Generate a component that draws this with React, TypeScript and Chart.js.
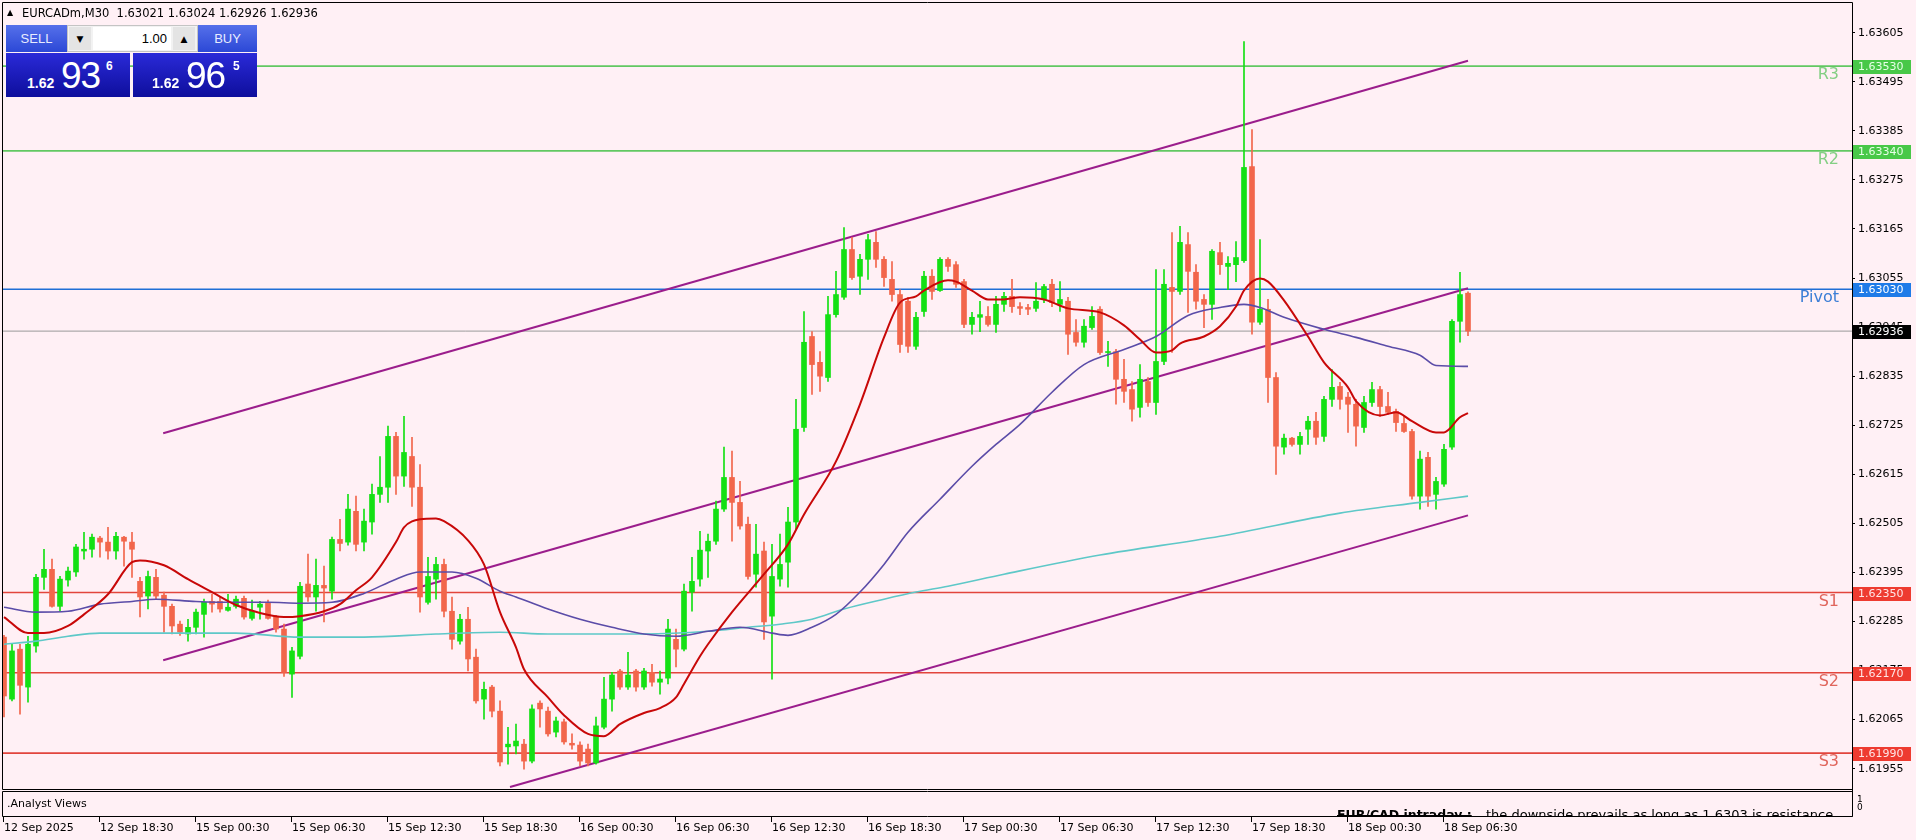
import React, { useEffect, useRef } from "react";
import { Chart, registerables } from "chart.js";

Chart.register(...registerables);

// ---------- data ----------
const timeLabels = ["12 Sep 2025", "12 Sep 18:30", "15 Sep 00:30", "15 Sep 06:30", "15 Sep 12:30", "15 Sep 18:30", "16 Sep 00:30", "16 Sep 06:30", "16 Sep 12:30", "16 Sep 18:30", "17 Sep 00:30", "17 Sep 06:30", "17 Sep 12:30", "17 Sep 18:30", "18 Sep 00:30", "18 Sep 06:30"];
const timeLabelBars = [0, 12, 24, 36, 48, 60, 72, 84, 96, 108, 120, 132, 144, 156, 168, 180];
const yTickValues = [1.61955, 1.62065, 1.62175, 1.62285, 1.62395, 1.62505, 1.62615, 1.62725, 1.62835, 1.62945, 1.63055, 1.63165, 1.63275, 1.63385, 1.63495, 1.63605];

const opens = [
  1.62250, 1.62111, 1.62223, 1.62138, 1.62230, 1.62384, 1.62402, 1.62319, 1.62378, 1.62396,
  1.62443, 1.62447, 1.62472, 1.62463, 1.62443, 1.62474, 1.62463, 1.62375, 1.62342, 1.62384,
  1.62344, 1.62319, 1.62279, 1.62257, 1.62272, 1.62301, 1.62330, 1.62330, 1.62310, 1.62319,
  1.62337, 1.62292, 1.62317, 1.62326, 1.62295, 1.62268, 1.62167, 1.62207, 1.62369, 1.62340,
  1.62366, 1.62353, 1.62469, 1.62463, 1.62532, 1.62463, 1.62508, 1.62570, 1.62586, 1.62700,
  1.62611, 1.62655, 1.62586, 1.62328, 1.62380, 1.62413, 1.62308, 1.62241, 1.62290, 1.62205,
  1.62111, 1.62138, 1.62084, 1.62004, 1.62006, 1.62010, 1.61972, 1.62102, 1.62084, 1.62037,
  1.62060, 1.62012, 1.62008, 1.61999, 1.61968, 1.62048, 1.62111, 1.62174, 1.62138, 1.62174,
  1.62138, 1.62171, 1.62149, 1.62158, 1.62245, 1.62223, 1.62351, 1.62380, 1.62443, 1.62465,
  1.62537, 1.62608, 1.62552, 1.62503, 1.62391, 1.62443, 1.62297, 1.62380, 1.62418, 1.62508,
  1.62720, 1.62924, 1.62866, 1.62832, 1.62973, 1.63012, 1.63119, 1.63059, 1.63097, 1.63135,
  1.63097, 1.63052, 1.63018, 1.63003, 1.62902, 1.62980, 1.63059, 1.63027, 1.63097, 1.63085,
  1.63047, 1.62951, 1.62967, 1.62969, 1.62951, 1.62996, 1.63014, 1.62991, 1.62989, 1.62987,
  1.63007, 1.63041, 1.62996, 1.63003, 1.62933, 1.62911, 1.62944, 1.62985, 1.62888, 1.62890,
  1.62828, 1.62805, 1.62765, 1.62823, 1.62776, 1.62868, 1.63034, 1.63025, 1.63130, 1.63068,
  1.63007, 1.62996, 1.63112, 1.63081, 1.63085, 1.63094, 1.63305, 1.62956, 1.62985, 1.62832,
  1.62676, 1.62696, 1.62682, 1.62716, 1.62734, 1.62700, 1.62783, 1.62812, 1.62788, 1.62772,
  1.62720, 1.62776, 1.62805, 1.62767, 1.62756, 1.62729, 1.62711, 1.62566, 1.62653, 1.62570,
  1.62593, 1.62676, 1.62958, 1.63021
];
const highs = [
  1.62254, 1.62234, 1.62234, 1.62252, 1.62391, 1.62447, 1.62425, 1.62386, 1.62407, 1.62458,
  1.62485, 1.62481, 1.62476, 1.62496, 1.62485, 1.62476, 1.62485, 1.62384, 1.62398, 1.62402,
  1.62351, 1.62324, 1.62286, 1.62290, 1.62313, 1.62335, 1.62346, 1.62340, 1.62346, 1.62342,
  1.62342, 1.62333, 1.62330, 1.62333, 1.62299, 1.62279, 1.62227, 1.62373, 1.62436, 1.62425,
  1.62409, 1.62474, 1.62514, 1.62570, 1.62566, 1.62537, 1.62593, 1.62655, 1.62723, 1.62709,
  1.62745, 1.62698, 1.62637, 1.62429, 1.62429, 1.62425, 1.62340, 1.62301, 1.62317, 1.62223,
  1.62149, 1.62142, 1.62107, 1.62048, 1.62055, 1.62021, 1.62098, 1.62107, 1.62093, 1.62071,
  1.62066, 1.62033, 1.62015, 1.62010, 1.62071, 1.62160, 1.62171, 1.62178, 1.62216, 1.62178,
  1.62180, 1.62189, 1.62174, 1.62290, 1.62268, 1.62369, 1.62429, 1.62487, 1.62481, 1.62555,
  1.62676, 1.62667, 1.62599, 1.62519, 1.62503, 1.62463, 1.62458, 1.62481, 1.62541, 1.62783,
  1.62980, 1.62935, 1.62890, 1.63014, 1.63070, 1.63168, 1.63146, 1.63108, 1.63153, 1.63159,
  1.63103, 1.63092, 1.63029, 1.63012, 1.62978, 1.63070, 1.63074, 1.63101, 1.63101, 1.63092,
  1.63052, 1.62978, 1.63003, 1.62991, 1.63014, 1.63023, 1.63052, 1.63000, 1.62996, 1.63045,
  1.63041, 1.63052, 1.63047, 1.63012, 1.62962, 1.62962, 1.62991, 1.62991, 1.62913, 1.62895,
  1.62873, 1.62823, 1.62861, 1.62832, 1.63074, 1.63074, 1.63157, 1.63171, 1.63157, 1.63085,
  1.63018, 1.63119, 1.63135, 1.63103, 1.63137, 1.63585, 1.63388, 1.63141, 1.63007, 1.62843,
  1.62705, 1.62698, 1.62709, 1.62745, 1.62754, 1.62790, 1.62850, 1.62821, 1.62799, 1.62783,
  1.62790, 1.62821, 1.62812, 1.62799, 1.62761, 1.62745, 1.62716, 1.62667, 1.62664, 1.62608,
  1.62682, 1.62962, 1.63068, 1.63024
];
const lows = [
  1.62071, 1.62107, 1.62077, 1.62104, 1.62216, 1.62357, 1.62317, 1.62308, 1.62364, 1.62386,
  1.62425, 1.62429, 1.62429, 1.62425, 1.62425, 1.62409, 1.62384, 1.62295, 1.62313, 1.62335,
  1.62261, 1.62257, 1.62254, 1.62241, 1.62257, 1.62250, 1.62306, 1.62306, 1.62308, 1.62315,
  1.62290, 1.62288, 1.62290, 1.62290, 1.62261, 1.62162, 1.62115, 1.62201, 1.62330, 1.62308,
  1.62284, 1.62335, 1.62443, 1.62456, 1.62443, 1.62443, 1.62481, 1.62552, 1.62552, 1.62570,
  1.62588, 1.62543, 1.62306, 1.62324, 1.62335, 1.62295, 1.62223, 1.62234, 1.62174, 1.62102,
  1.62066, 1.62071, 1.61961, 1.61965, 1.61988, 1.61954, 1.61968, 1.62048, 1.62028, 1.62026,
  1.62010, 1.61999, 1.61961, 1.61961, 1.61965, 1.62044, 1.62084, 1.62133, 1.62133, 1.62129,
  1.62133, 1.62140, 1.62122, 1.62145, 1.62183, 1.62219, 1.62308, 1.62364, 1.62384, 1.62458,
  1.62532, 1.62465, 1.62492, 1.62380, 1.62362, 1.62245, 1.62156, 1.62364, 1.62362, 1.62492,
  1.62711, 1.62794, 1.62801, 1.62823, 1.62967, 1.63007, 1.63052, 1.63018, 1.63052, 1.63079,
  1.63036, 1.63003, 1.62888, 1.62888, 1.62895, 1.62969, 1.63007, 1.63025, 1.63070, 1.63034,
  1.62944, 1.62929, 1.62935, 1.62947, 1.62933, 1.62980, 1.62978, 1.62973, 1.62973, 1.62980,
  1.63000, 1.62991, 1.62980, 1.62884, 1.62902, 1.62900, 1.62940, 1.62884, 1.62857, 1.62772,
  1.62776, 1.62734, 1.62743, 1.62767, 1.62749, 1.62861, 1.62888, 1.63018, 1.62978, 1.62985,
  1.62944, 1.62962, 1.63063, 1.63029, 1.63047, 1.63090, 1.62929, 1.62951, 1.62776, 1.62615,
  1.62660, 1.62678, 1.62660, 1.62682, 1.62682, 1.62689, 1.62767, 1.62761, 1.62709, 1.62678,
  1.62709, 1.62767, 1.62745, 1.62749, 1.62711, 1.62709, 1.62559, 1.62537, 1.62543, 1.62537,
  1.62588, 1.62671, 1.62911, 1.62926
];
const closes = [
  1.62118, 1.62219, 1.62142, 1.62234, 1.62384, 1.62402, 1.62319, 1.62380, 1.62398, 1.62452,
  1.62447, 1.62474, 1.62463, 1.62443, 1.62476, 1.62465, 1.62447, 1.62340, 1.62386, 1.62342,
  1.62319, 1.62275, 1.62261, 1.62272, 1.62306, 1.62328, 1.62324, 1.62313, 1.62317, 1.62335,
  1.62295, 1.62308, 1.62324, 1.62292, 1.62268, 1.62171, 1.62219, 1.62364, 1.62340, 1.62366,
  1.62360, 1.62469, 1.62460, 1.62537, 1.62458, 1.62510, 1.62570, 1.62586, 1.62700, 1.62611,
  1.62664, 1.62586, 1.62340, 1.62386, 1.62413, 1.62308, 1.62245, 1.62290, 1.62201, 1.62107,
  1.62133, 1.62084, 1.61970, 1.62010, 1.62017, 1.61972, 1.62089, 1.62089, 1.62033, 1.62062,
  1.62015, 1.62008, 1.61972, 1.61968, 1.62051, 1.62111, 1.62165, 1.62138, 1.62165, 1.62138,
  1.62174, 1.62149, 1.62156, 1.62268, 1.62223, 1.62353, 1.62375, 1.62445, 1.62465, 1.62537,
  1.62608, 1.62552, 1.62499, 1.62386, 1.62436, 1.62284, 1.62386, 1.62413, 1.62508, 1.62716,
  1.62911, 1.62861, 1.62835, 1.62973, 1.63018, 1.63119, 1.63056, 1.63097, 1.63141, 1.63097,
  1.63056, 1.63018, 1.62906, 1.62902, 1.62967, 1.63059, 1.63025, 1.63097, 1.63081, 1.63041,
  1.62951, 1.62967, 1.62973, 1.62951, 1.62996, 1.63014, 1.62991, 1.62987, 1.62985, 1.63003,
  1.63036, 1.63000, 1.63007, 1.62929, 1.62911, 1.62947, 1.62969, 1.62888, 1.62890, 1.62828,
  1.62801, 1.62761, 1.62828, 1.62776, 1.62868, 1.63041, 1.63025, 1.63135, 1.63070, 1.63003,
  1.62996, 1.63115, 1.63085, 1.63088, 1.63101, 1.63303, 1.62956, 1.62985, 1.62832, 1.62678,
  1.62696, 1.62682, 1.62700, 1.62734, 1.62698, 1.62783, 1.62810, 1.62783, 1.62772, 1.62723,
  1.62776, 1.62805, 1.62767, 1.62754, 1.62731, 1.62711, 1.62566, 1.62649, 1.62566, 1.62599,
  1.62671, 1.62958, 1.63018, 1.62936
];

// moving averages, read at sample bars
const maFastBars = [0, 3, 5, 8, 10, 13, 16, 17, 20, 23, 26, 29, 32, 35, 37, 40, 42, 44, 46, 49, 50, 52, 54, 55, 58, 60, 62, 64, 65, 68, 70, 73, 75, 77, 80, 82, 84, 85, 87, 88, 91, 95, 98, 100, 104, 107, 110, 112, 114, 115, 118, 119, 121, 123, 125, 127, 130, 133, 137, 140, 142, 144, 146, 147, 150, 152, 154, 155, 157, 158, 160, 163, 165, 168, 169, 172, 174, 176, 179, 180, 182, 183];
const maFastValues = [1.62295, 1.62259, 1.62259, 1.62275, 1.62301, 1.62346, 1.62418, 1.62422, 1.62411, 1.62380, 1.62351, 1.62322, 1.62304, 1.62295, 1.62297, 1.62308, 1.62324, 1.62355, 1.62384, 1.62463, 1.62496, 1.62514, 1.62516, 1.62510, 1.62467, 1.62413, 1.62306, 1.62227, 1.62178, 1.62115, 1.62075, 1.62033, 1.62028, 1.62055, 1.62080, 1.62091, 1.62115, 1.62145, 1.62207, 1.62234, 1.62306, 1.62391, 1.62458, 1.62525, 1.62644, 1.62772, 1.62922, 1.63000, 1.63014, 1.63027, 1.63050, 1.63047, 1.63027, 1.63007, 1.63007, 1.63012, 1.63007, 1.62987, 1.62978, 1.62949, 1.62917, 1.62888, 1.62893, 1.62908, 1.62924, 1.62947, 1.62991, 1.63027, 1.63054, 1.63047, 1.63005, 1.62924, 1.62866, 1.62810, 1.62779, 1.62747, 1.62754, 1.62734, 1.62709, 1.62709, 1.62743, 1.62752];
const maMidBars = [0, 4, 8, 12, 16, 19, 24, 29, 33, 37, 41, 45, 49, 52, 56, 59, 62, 64, 68, 72, 76, 80, 84, 88, 92, 96, 98, 101, 104, 107, 110, 113, 117, 121, 124, 127, 131, 135, 140, 144, 148, 152, 155, 157, 160, 165, 169, 173, 177, 179, 183];
const maMidValues = [1.62317, 1.62306, 1.62308, 1.62324, 1.62330, 1.62335, 1.62330, 1.62328, 1.62328, 1.62326, 1.62328, 1.62348, 1.62380, 1.62396, 1.62396, 1.62382, 1.62353, 1.62340, 1.62313, 1.62290, 1.62272, 1.62257, 1.62252, 1.62263, 1.62272, 1.62259, 1.62254, 1.62272, 1.62301, 1.62351, 1.62413, 1.62485, 1.62559, 1.62633, 1.62682, 1.62727, 1.62799, 1.62861, 1.62895, 1.62924, 1.62971, 1.62989, 1.62996, 1.62989, 1.62967, 1.62940, 1.62922, 1.62902, 1.62882, 1.62859, 1.62857];
const maSlowBars = [0, 4, 8, 12, 20, 29, 37, 45, 54, 62, 68, 80, 88, 93, 97, 101, 105, 110, 114, 118, 125, 137, 152, 167, 177, 183];
const maSlowValues = [1.62234, 1.62241, 1.62252, 1.62259, 1.62259, 1.62259, 1.62250, 1.62250, 1.62257, 1.62261, 1.62257, 1.62257, 1.62263, 1.62272, 1.62279, 1.62290, 1.62313, 1.62335, 1.62351, 1.62364, 1.62391, 1.62434, 1.62476, 1.62528, 1.62552, 1.62566];

// trend channel
const channelUpperBars = [19.9, 183];
const channelUpperValues = [1.62707, 1.63542];
const channelMiddleBars = [19.9, 183];
const channelMiddleValues = [1.62198, 1.63032];
const channelLowerBars = [63.25, 183];
const channelLowerValues = [1.61914, 1.62523];

// pivot levels
const levelNames = ["R3", "R2", "Pivot", "S1", "S2", "S3"];
const levelValues = [1.6353, 1.6334, 1.6303, 1.6235, 1.6217, 1.6199];

const headerSymbol = "EURCADm,M30";
const headerQuote = "1.63021 1.63024 1.62926 1.62936";
const indicatorName = ".Analyst Views";
const analystTitle = "EUR/CAD intraday :";
const analystText = "the downside prevails as long as 1.6303 is resistance";
const lotSize = "1.00";
const sellPrice = ["1.62", "93", "6"];
const buyPrice = ["1.62", "96", "5"];

// ---------- styling ----------
const BG = "#FFF0F5";
const UP = "#14E014";
const DOWN = "#F2664B";
const FONT = '"DejaVu Sans", Verdana, sans-serif';
const X_MIN = -0.125;
const X_MAX = 231;
const Y_MIN = 1.619095;
const Y_MAX = 1.636716;
const levelLineColors = ["#62c862", "#62c862", "#1f6fd6", "#e2453c", "#e2453c", "#e2453c"];
const levelNameColors = ["#84cf84", "#84cf84", "#3c7ed6", "#e0655c", "#e0655c", "#e0655c"];
const levelBoxColors = ["#48c848", "#48c848", "#1f7be8", "#ee3b30", "#ee3b30", "#ee3b30"];
const levelBoxText = ["#e6ffe6", "#e6ffe6", "#ffffff", "#ffe6e6", "#ffe6e6", "#ffe6e6"];

const mt4Plugin = {
  id: "mt4",
  beforeDraw(chart: any) {
    const { ctx, width, height } = chart;
    ctx.save();
    ctx.fillStyle = BG;
    ctx.fillRect(0, 0, width, height);
    ctx.restore();
  },
  afterDraw(chart: any) {
    const { ctx, chartArea: a, scales } = chart;
    const xs = scales.x;
    const ys = scales.y;
    ctx.save();
    // frames
    ctx.strokeStyle = "#000";
    ctx.lineWidth = 1;
    ctx.beginPath();
    ctx.moveTo(a.left - 0.5, a.bottom + 0.5);
    ctx.lineTo(a.left - 0.5, a.top - 0.5);
    ctx.lineTo(a.right + 0.5, a.top - 0.5);
    ctx.lineTo(a.right + 0.5, a.bottom + 27.5);
    ctx.moveTo(a.left - 0.5, a.bottom + 0.5);
    ctx.lineTo(a.right + 0.5, a.bottom + 0.5);
    ctx.rect(a.left - 0.5, a.bottom + 2.5, a.right - a.left + 1, 25);
    ctx.stroke();

    // x tick marks
    ctx.beginPath();
    timeLabelBars.forEach((b) => {
      const px = Math.round(xs.getPixelForValue(b)) - 0.5;
      ctx.moveTo(px, a.bottom + 27.5);
      ctx.lineTo(px, a.bottom + 33);
    });
    ctx.stroke();

    // indicator panel texts
    ctx.save();
    ctx.beginPath();
    ctx.rect(a.left, a.bottom + 3, a.right - a.left, 24);
    ctx.clip();
    ctx.fillStyle = "#000";
    ctx.textBaseline = "alphabetic";
    ctx.textAlign = "left";
    ctx.font = `11px ${FONT}`;
    ctx.fillText(indicatorName, 7, a.bottom + 18);
    ctx.font = `bold 12.5px ${FONT}`;
    ctx.fillText(analystTitle, 1337, a.bottom + 30);
    const tw = ctx.measureText(analystTitle).width;
    ctx.fillRect(1337, a.bottom + 26, tw, 1);
    ctx.font = `13px ${FONT}`;
    ctx.fillText(analystText, 1486, a.bottom + 30);
    ctx.restore();
    ctx.fillStyle = "#000";
    ctx.font = `9px ${FONT}`;
    ctx.textAlign = "left";
    ctx.textBaseline = "middle";
    ctx.fillText("1", a.right + 5, a.bottom + 11);
    ctx.fillText("0", a.right + 5, a.bottom + 19);

    // level names and right-axis boxes
    levelValues.forEach((v, k) => {
      const py = Math.round(ys.getPixelForValue(v));
      ctx.font = `16px ${FONT}`;
      ctx.fillStyle = levelNameColors[k];
      ctx.textAlign = "right";
      ctx.textBaseline = "alphabetic";
      ctx.fillText(levelNames[k], 1839, py + 13);
      ctx.fillStyle = levelBoxColors[k];
      ctx.fillRect(a.right + 1, py - 6, 58, 14);
      ctx.fillStyle = levelBoxText[k];
      ctx.font = `11px ${FONT}`;
      ctx.textAlign = "left";
      ctx.textBaseline = "middle";
      ctx.fillText(v.toFixed(5), a.right + 6, py + 1);
    });
    const last = closes[closes.length - 1];
    const cy = Math.round(ys.getPixelForValue(last));
    ctx.fillStyle = "#000";
    ctx.fillRect(a.right + 1, cy - 6, 58, 14);
    ctx.fillStyle = "#fff";
    ctx.font = `11px ${FONT}`;
    ctx.textAlign = "left";
    ctx.textBaseline = "middle";
    ctx.fillText(last.toFixed(5), a.right + 6, cy + 1);

    // header
    ctx.fillStyle = "#000";
    ctx.textBaseline = "alphabetic";
    ctx.font = `8px ${FONT}`;
    ctx.fillText("\u25B2", 7, 15);
    ctx.font = `11.5px ${FONT}`;
    ctx.fillText(headerSymbol, 22, 17);
    const sw = ctx.measureText(headerSymbol + "  ").width;
    ctx.fillText(headerQuote, 22 + sw, 17);
    ctx.restore();
  },
};

function lineSet(bars: number[], values: number[], color: string, width: number, order: number, smooth = false) {
  return {
    type: "line",
    data: bars.map((b, i) => ({ x: b, y: values[i] })),
    borderColor: color,
    borderWidth: width,
    pointRadius: 0,
    fill: false,
    cubicInterpolationMode: smooth ? "monotone" : "default",
    tension: 0,
    clip: 0,
    order,
  };
}

function buildConfig(): any {
  const bars = opens.map((_, i) => i);
  const colors = bars.map((i) => (closes[i] >= opens[i] ? UP : DOWN));
  const datasets: any[] = [];
  levelValues.forEach((v, k) => {
    datasets.push(lineSet([X_MIN, X_MAX], [v, v], levelLineColors[k], 1.6, 20));
  });
  const last = closes[closes.length - 1];
  datasets.push(lineSet([X_MIN, X_MAX], [last, last], "#9a9a9a", 1, 19));
  datasets.push(lineSet(channelUpperBars, channelUpperValues, "#9b1d8c", 2, 18));
  datasets.push(lineSet(channelMiddleBars, channelMiddleValues, "#9b1d8c", 2, 18));
  datasets.push(lineSet(channelLowerBars, channelLowerValues, "#9b1d8c", 2, 18));
  datasets.push({
    type: "bar",
    data: bars.map((i) => ({ x: i, y: [lows[i], highs[i]] })),
    backgroundColor: colors,
    borderWidth: 0,
    barThickness: 1,
    grouped: false,
    order: 10,
  });
  datasets.push({
    type: "bar",
    data: bars.map((i) => ({ x: i, y: [opens[i], closes[i]] })),
    backgroundColor: colors,
    borderWidth: 0,
    barThickness: 5,
    minBarLength: 1,
    grouped: false,
    order: 9,
  });
  datasets.push(lineSet(maSlowBars, maSlowValues, "#5ec8c8", 1.6, 3, true));
  datasets.push(lineSet(maMidBars, maMidValues, "#5b4ca8", 1.6, 2, true));
  datasets.push(lineSet(maFastBars, maFastValues, "#c80808", 2, 1, true));

  return {
    type: "bar",
    data: { datasets },
    plugins: [mt4Plugin],
    options: {
      responsive: false,
      maintainAspectRatio: false,
      devicePixelRatio: 1,
      animation: false,
      events: [],
      layout: { padding: { left: 3, top: 3, right: 0, bottom: 0 } },
      plugins: { legend: { display: false }, tooltip: { enabled: false } },
      scales: {
        x: {
          type: "linear",
          min: X_MIN,
          max: X_MAX,
          offset: false,
          grid: { display: false },
          border: { display: false },
          afterBuildTicks: (s: any) => {
            s.ticks = timeLabelBars.map((v) => ({ value: v }));
          },
          afterFit: (s: any) => {
            s.height = 51;
            s.paddingLeft = 0;
            s.paddingRight = 0;
          },
          ticks: {
            autoSkip: false,
            maxRotation: 0,
            minRotation: 0,
            align: "start",
            padding: 25,
            color: "#000",
            font: { family: FONT, size: 11 },
            callback: (_v: any, i: number) => timeLabels[i],
          },
        },
        y: {
          type: "linear",
          position: "right",
          min: Y_MIN,
          max: Y_MAX,
          grid: { drawOnChartArea: false, drawTicks: true, tickLength: 3, color: "#000" },
          border: { display: true, color: "#000", width: 1 },
          afterBuildTicks: (s: any) => {
            s.ticks = yTickValues.map((v) => ({ value: v }));
          },
          afterFit: (s: any) => {
            s.width = 64;
            s.paddingTop = 0;
            s.paddingBottom = 0;
          },
          ticks: {
            autoSkip: false,
            padding: 3,
            color: "#000",
            font: { family: FONT, size: 11 },
            callback: (v: any) => Number(v).toFixed(5),
          },
        },
      },
    },
  };
}

const PFONT = '"Liberation Sans", Arial, sans-serif';

function PriceBox({ left, parts }: { left: number; parts: string[] }) {
  return (
    <div style={{ position: "absolute", left, top: 53, width: 124, height: 44, background: "linear-gradient(#2a2ad8, #0e0e9c)", color: "#fff" }}>
      <span style={{ position: "absolute", left: left === 6 ? 21 : 19, top: 23, font: `bold 14px ${PFONT}`, lineHeight: "14px" }}>{parts[0]}</span>
      <span style={{ position: "absolute", left: left === 6 ? 55 : 53, top: 4, font: `37px ${PFONT}`, lineHeight: "37px", letterSpacing: -1 }}>{parts[1]}</span>
      <span style={{ position: "absolute", left: 100, top: 7, font: `bold 12px ${PFONT}`, lineHeight: "12px" }}>{parts[2]}</span>
    </div>
  );
}

function TradePanel() {
  const hdr: any = {
    position: "absolute",
    top: 25,
    height: 27,
    background: "linear-gradient(#5570ea, #2c48d6)",
    color: "#e8ecff",
    font: `13px ${PFONT}`,
    display: "flex",
    alignItems: "center",
    justifyContent: "center",
  };
  const btn: any = {
    position: "absolute",
    top: 1,
    width: 22,
    height: 23,
    background: "#e4e4e4",
    display: "flex",
    alignItems: "center",
    justifyContent: "center",
    font: `9px ${FONT}`,
    color: "#000",
  };
  return (
    <>
      <div style={{ ...hdr, left: 6, width: 61 }}>SELL</div>
      <div style={{ ...hdr, left: 198, width: 59 }}>BUY</div>
      <div style={{ position: "absolute", left: 67, top: 25, width: 131, height: 27, background: "#f2f2f2", boxSizing: "border-box", border: "1px solid #c4c4c4" }}>
        <div style={{ ...btn, left: 1 }}>{"\u25BC"}</div>
        <div style={{ position: "absolute", left: 25, top: 1, width: 78, height: 23, background: "#fff", boxSizing: "border-box", paddingRight: 4, textAlign: "right", font: `13px ${PFONT}`, lineHeight: "23px", color: "#000" }}>{lotSize}</div>
        <div style={{ ...btn, left: 105 }}>{"\u25B2"}</div>
      </div>
      <PriceBox left={6} parts={sellPrice} />
      <PriceBox left={133} parts={buyPrice} />
    </>
  );
}

export default function App() {
  const ref = useRef<HTMLCanvasElement | null>(null);
  useEffect(() => {
    const canvas = ref.current;
    if (!canvas) return;
    const chart = new Chart(canvas, buildConfig());
    return () => chart.destroy();
  }, []);
  return (
    <div style={{ position: "fixed", left: 0, top: 0, width: 1916, height: 840, background: BG, overflow: "hidden" }}>
      <canvas ref={ref} width={1916} height={840} style={{ position: "absolute", left: 0, top: 0, width: 1916, height: 840 }} />
      <TradePanel />
    </div>
  );
}
